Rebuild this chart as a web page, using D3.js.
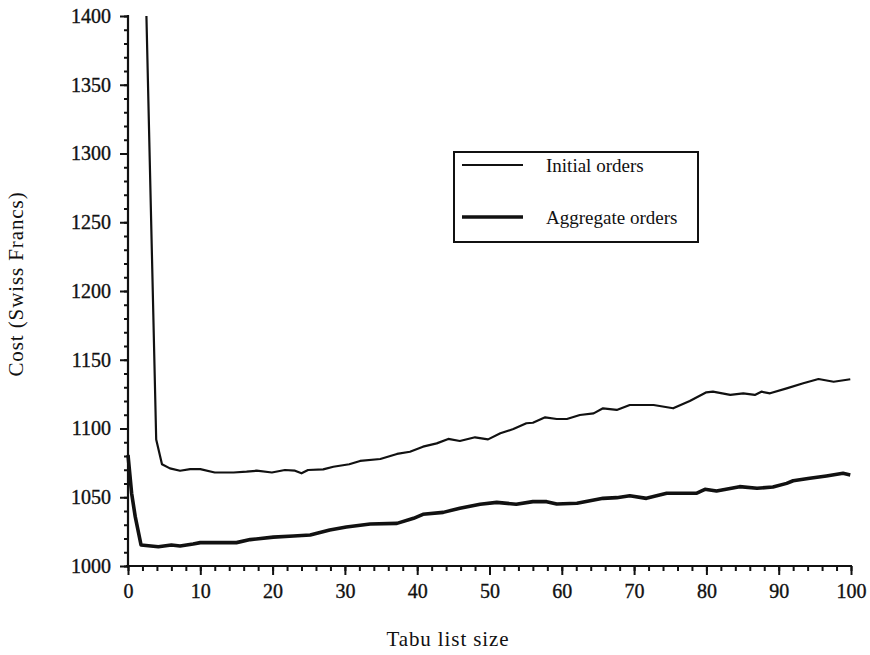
<!DOCTYPE html>
<html>
<head>
<meta charset="utf-8">
<script src="https://cdn.jsdelivr.net/npm/d3@7"></script>
<style>
  body { margin: 0; background: #fff; }
  svg text { font-family: "Liberation Serif", "Times New Roman", serif; fill: #111; }
</style>
</head>
<body>
<svg id="chart" width="870" height="655"></svg>
<script>
// tabu list size / cost values
var initialSize = [2.5, 3.9, 4.7, 5.8, 7.2, 8.6, 10, 12, 14.6, 16.4, 17.8, 19.9, 21.7, 23.1, 24, 24.9,
  27, 28.4, 30.6, 32.1, 34.9, 37.2, 39, 40.8, 42.7, 44.3, 45.9, 48, 49.8, 51.5, 53.3, 55.1, 56,
  57.7, 59.3, 60.7, 62.5, 64.4, 65.7, 67.6, 69.4, 72.7, 75.4, 77.7, 80, 80.9, 83.3, 85.1, 86.7,
  87.6, 88.8, 91.1, 93.4, 95.5, 97.6, 99.9];
var initialCost = [1411, 1092, 1074, 1071, 1069.3, 1070.5, 1070.5, 1068, 1068, 1068.6, 1069.3, 1068, 1069.8, 1069.3, 1067.4, 1069.8,
  1070.3, 1072.2, 1074, 1076.4, 1077.8, 1081.5, 1083.1, 1086.8, 1089.2, 1092.4, 1090.9, 1093.6, 1092.1, 1096.5, 1099.6, 1103.8, 1104.2,
  1108.1, 1106.9, 1106.9, 1109.8, 1111, 1114.7, 1113.5, 1117.1, 1117.1, 1114.7, 1120, 1126.3, 1126.8, 1124.4, 1125.6, 1124.4,
  1126.8, 1125.6, 1129.2, 1132.9, 1136, 1134, 1135.8];

var aggregateSize = [0, 0.5, 1, 1.8, 4.2, 6, 7.2, 9, 10, 15, 16.9, 20.1, 22.9, 25.2, 27.9, 30.2, 33.5, 37.2,
  39.5, 40.8, 43.6, 45.9, 48.7, 51, 53.7, 56, 57.9, 59.3, 62.1, 63.9, 65.7, 67.6, 69.4, 71.7, 74.5,
  78.6, 79.8, 81.4, 84.6, 87, 89.2, 91.1, 92, 94.3, 96.6, 98.9, 99.9];
var aggregateCost = [1080.7, 1052.9, 1035.9, 1015.3, 1014, 1015.3, 1014.5, 1016, 1017, 1017, 1019.2, 1021, 1021.8, 1022.5, 1026.2, 1028.3, 1030.5, 1031,
  1034.7, 1037.6, 1039, 1042, 1044.9, 1046.3, 1044.9, 1046.8, 1046.8, 1045.1, 1045.6, 1047.5, 1049.2, 1049.7, 1051.1, 1049.2, 1052.9,
  1052.9, 1055.8, 1054.5, 1057.7, 1056.5, 1057.4, 1060.1, 1062, 1063.8, 1065.5, 1067.4, 1066.2];

var xTicks = [0, 10, 20, 30, 40, 50, 60, 70, 80, 90, 100];
var yTicks = [1000, 1050, 1100, 1150, 1200, 1250, 1300, 1350, 1400];
var seriesNames = ["Initial orders", "Aggregate orders"];

var svg = d3.select("#chart");
var plotL = 128, plotR = 851, plotT = 16, plotB = 566;

var x = d3.scaleLinear().domain([0, 100]).range([plotL, plotR]);
var y = d3.scaleLinear().domain([1000, 1400]).range([plotB, plotT]);

// clip so the initial curve is cut at 1400
svg.append("defs").append("clipPath")
	.attr("id", "plot-clip")
	.append("rect")
	.attr("x", plotL - 2)
	.attr("y", plotT)
	.attr("width", plotR - plotL + 4)
	.attr("height", plotB - plotT);

// minor ticks (no labels)
var xMinor = d3.range(0, 101, 2);
var yMinor = d3.range(1000, 1401, 10);

svg.append("g")
	.attr("transform", "translate(0," + plotB + ")")
	.call(d3.axisBottom(x).tickValues(xMinor).tickSize(5).tickFormat(""));
svg.append("g")
	.attr("transform", "translate(" + plotL + ",0)")
	.call(d3.axisLeft(y).tickValues(yMinor).tickSize(4).tickFormat(""));

// major ticks with labels
svg.append("g")
	.attr("transform", "translate(0," + plotB + ")")
	.call(d3.axisBottom(x).tickValues(xTicks).tickSize(9).tickPadding(9).tickFormat(d3.format("d")));
svg.append("g")
	.attr("transform", "translate(" + plotL + ",0)")
	.call(d3.axisLeft(y).tickValues(yTicks).tickSize(8).tickPadding(9).tickFormat(d3.format("d")));

svg.selectAll(".domain").remove();
svg.selectAll(".tick line").attr("stroke", "#111").attr("stroke-width", 2);
svg.selectAll(".tick text")
	.attr("font-family", "Liberation Serif, serif")
	.attr("font-size", 20)
	.attr("fill", "#111")
	.attr("stroke", "#111")
	.attr("stroke-width", 0.35);

// axis lines
svg.append("line")
	.attr("x1", plotL).attr("x2", plotL)
	.attr("y1", plotT - 1).attr("y2", plotB + 2)
	.attr("stroke", "#111").attr("stroke-width", 2.2);
svg.append("line")
	.attr("x1", plotL - 2).attr("x2", plotR + 1)
	.attr("y1", plotB).attr("y2", plotB)
	.attr("stroke", "#111").attr("stroke-width", 2.2);

// the two curves
var line = d3.line()
	.x(function(d){ return x(d[0]); })
	.y(function(d){ return y(d[1]); });

var plot = svg.append("g").attr("clip-path", "url(#plot-clip)");

plot.append("path")
	.datum(d3.zip(initialSize, initialCost))
	.attr("d", line)
	.attr("fill", "none")
	.attr("stroke", "#111")
	.attr("stroke-width", 2.2)
	.attr("stroke-linejoin", "round");

plot.append("path")
	.datum(d3.zip(aggregateSize, aggregateCost))
	.attr("d", line)
	.attr("fill", "none")
	.attr("stroke", "#111")
	.attr("stroke-width", 3.6)
	.attr("stroke-linejoin", "round");

// axis titles
svg.append("text")
	.attr("transform", "translate(23,284) rotate(-90)")
	.attr("text-anchor", "middle")
	.attr("font-size", 21)
	.attr("letter-spacing", 0.9)
	.text("Cost (Swiss Francs)");

svg.append("text")
	.attr("x", 448)
	.attr("y", 646)
	.attr("text-anchor", "middle")
	.attr("font-size", 21)
	.attr("letter-spacing", 0.9)
	.text("Tabu list size");

// legend box
var legend = svg.append("g").attr("class", "legend");
legend.append("rect")
	.attr("x", 454).attr("y", 152)
	.attr("width", 244).attr("height", 90)
	.attr("fill", "#fff")
	.attr("stroke", "#111")
	.attr("stroke-width", 2);

var legendW = [2.2, 3.6];
var legendRow = d3.scalePoint().domain(seriesNames).range([165, 217]);
seriesNames.forEach(function(name, i){
	var cy = legendRow(name);
	legend.append("line")
		.attr("x1", 462).attr("x2", 523)
		.attr("y1", cy).attr("y2", cy)
		.attr("stroke", "#111")
		.attr("stroke-width", legendW[i]);
	legend.append("text")
		.attr("x", 546)
		.attr("y", cy + 7)
		.attr("font-size", 19)
		.text(name);
});
</script>
</body>
</html>
